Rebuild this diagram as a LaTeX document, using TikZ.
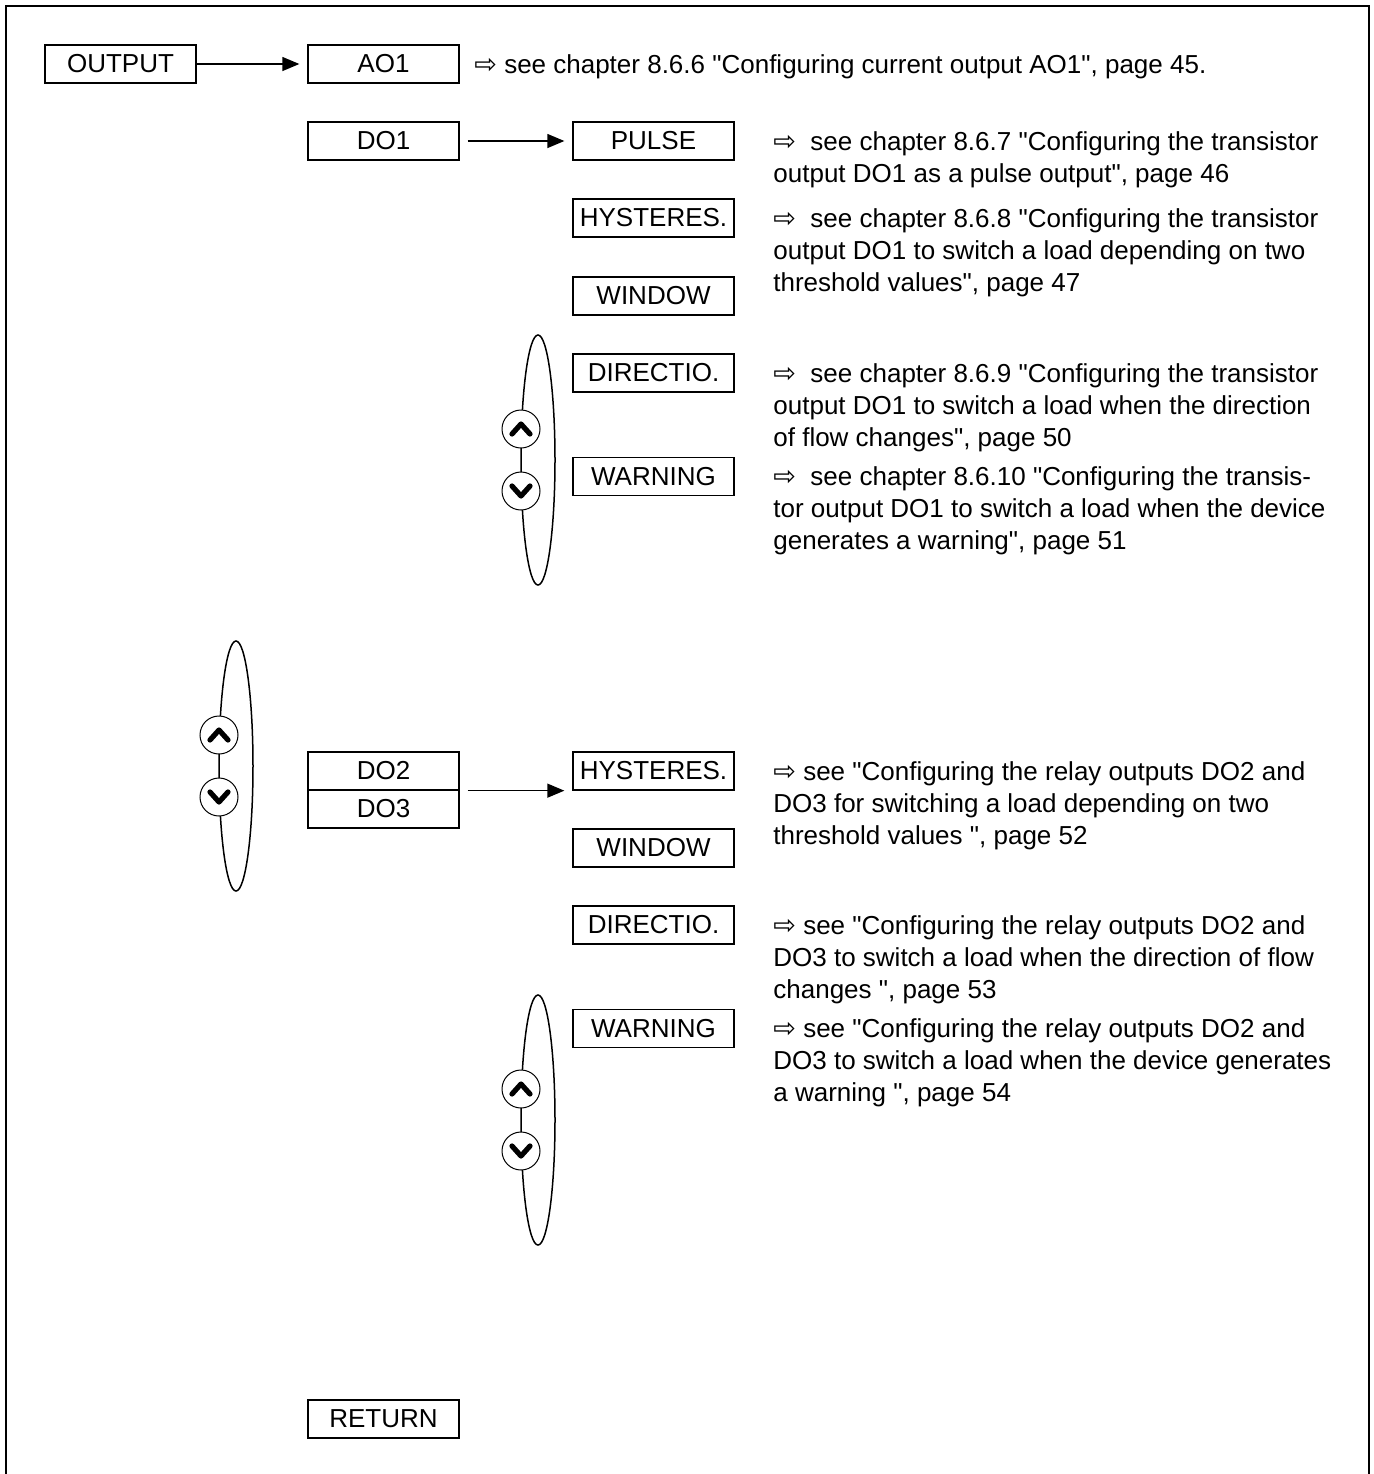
\documentclass[tikz,border=0pt]{standalone}
\usepackage{fontspec}
\setmainfont{Liberation Sans}
\newfontfamily\arrowfont{DejaVu Sans}
\newfontfamily\quotefont{Liberation Sans}
\usetikzlibrary{arrows.meta}
\newcommand{\seeref}{{\arrowfont\fontsize{13.5}{13.5}\selectfont ⇨}}
\newcommand{\dq}{{\quotefont\symbol{34}}}
\tikzset{menubox/.style={draw,line width=.65pt,minimum width=75.5pt,minimum height=19pt,inner sep=0pt,font=\fontsize{13}{16}\selectfont},
  widebox/.style={menubox,minimum width=80.5pt},
  hint/.style={anchor=north west,inner sep=0pt,align=left,font=\fontsize{13}{16}\selectfont},
  arrow/.style={-{Triangle[length=8.5pt,width=7pt]},line width=.65pt},
  keyring/.style={line width=.75pt},
  keybtn/.style={circle,draw,fill=white,line width=.5pt,minimum size=19pt,inner sep=0pt},
  chevron/.style={line width=2.6pt,line cap=round,line join=round}}

\begin{document}
\begin{tikzpicture}[x=0.5pt,y=-0.5pt]
  \path[use as bounding box] (0,0) rectangle (1374,1474);
  \draw[line width=.65pt] (6,1474) -- (6,6) -- (1369,6) -- (1369,1474);
  % menu column
  \node[menubox] (output) at (120.5,64) {OUTPUT};
  \node[menubox] (ao1) at (383.5,64) {AO1};
  \node[menubox] (do1) at (383.5,141) {DO1};
  \node[menubox] (do2) at (383.5,771) {DO2};
  \node[menubox] (do3) at (383.5,809) {DO3};
  \node[menubox] (return) at (383.5,1419) {RETURN};
  % sub menus
  \node[widebox] (pulse) at (653.5,141) {PULSE};
  \node[widebox] (hysta) at (653.5,218) {HYSTERES.};
  \node[widebox] (windowa) at (653.5,296) {WINDOW};
  \node[widebox] (directa) at (653.5,373) {DIRECTIO.};
  \node[widebox] (warna) at (653.5,476.5) {WARNING};
  \node[widebox] (hystb) at (653.5,771) {HYSTERES.};
  \node[widebox] (windowb) at (653.5,848) {WINDOW};
  \node[widebox] (directb) at (653.5,925) {DIRECTIO.};
  \node[widebox] (warnb) at (653.5,1028.5) {WARNING};
  % references
  \node[hint] (hao1) at (474,54) {\seeref\ see chapter 8.6.6 \dq Configuring current output AO1\dq, page 45.};
  \node[hint] (hpulse) at (773,131) {\seeref\ \ see chapter 8.6.7 \dq Configuring the transistor\\output DO1 as a pulse output\dq, page 46};
  \node[hint] (hhysta) at (773,208) {\seeref\ \ see chapter 8.6.8 \dq Configuring the transistor\\output DO1 to switch a load depending on two\\threshold values\dq, page 47};
  \node[hint] (hdirecta) at (773,363) {\seeref\ \ see chapter 8.6.9 \dq Configuring the transistor\\output DO1 to switch a load when the direction\\of flow changes\dq, page 50};
  \node[hint] (hwarna) at (773,466.5) {\seeref\ \ see chapter 8.6.10 \dq Configuring the transis-\\tor output DO1 to switch a load when the device\\generates a warning\dq, page 51};
  \node[hint] (hhystb) at (773,761) {\seeref\ see \dq Configuring the relay outputs DO2 and\\DO3 for switching a load depending on two\\threshold values \dq, page 52};
  \node[hint] (hdirectb) at (773,915) {\seeref\ see \dq Configuring the relay outputs DO2 and\\DO3 to switch a load when the direction of flow\\changes \dq, page 53};
  \node[hint] (hwarnb) at (773,1018.5) {\seeref\ see \dq Configuring the relay outputs DO2 and\\DO3 to switch a load when the device generates\\a warning \dq, page 54};
  % arrows
  \draw[arrow,shorten >=4pt] (output) -- (ao1);
  \draw[arrow,shorten <=4pt,shorten >=4pt] (do1) -- (pulse);
  \draw[arrow,shorten <=4pt,shorten >=4pt] (do2.south east) -- (hystb.south west);
  % up/down keys
  \foreach \bx/\by/\n in {521/429/a,219/735/b,521/1089/c}{
    \draw[keyring] (\bx+17,\by+31) ellipse[x radius=17,y radius=125];
    \node[keybtn] (up\n) at (\bx,\by) {};
    \node[keybtn] (dn\n) at (\bx,\by+62) {};
    \draw[chevron] ([shift={(-9,5)}]up\n.center) -- ([shift={(0,-5)}]up\n.center) -- ([shift={(9,5)}]up\n.center);
    \draw[chevron] ([shift={(-9,-5)}]dn\n.center) -- ([shift={(0,5)}]dn\n.center) -- ([shift={(9,-5)}]dn\n.center);
  }
\end{tikzpicture}
\end{document}
